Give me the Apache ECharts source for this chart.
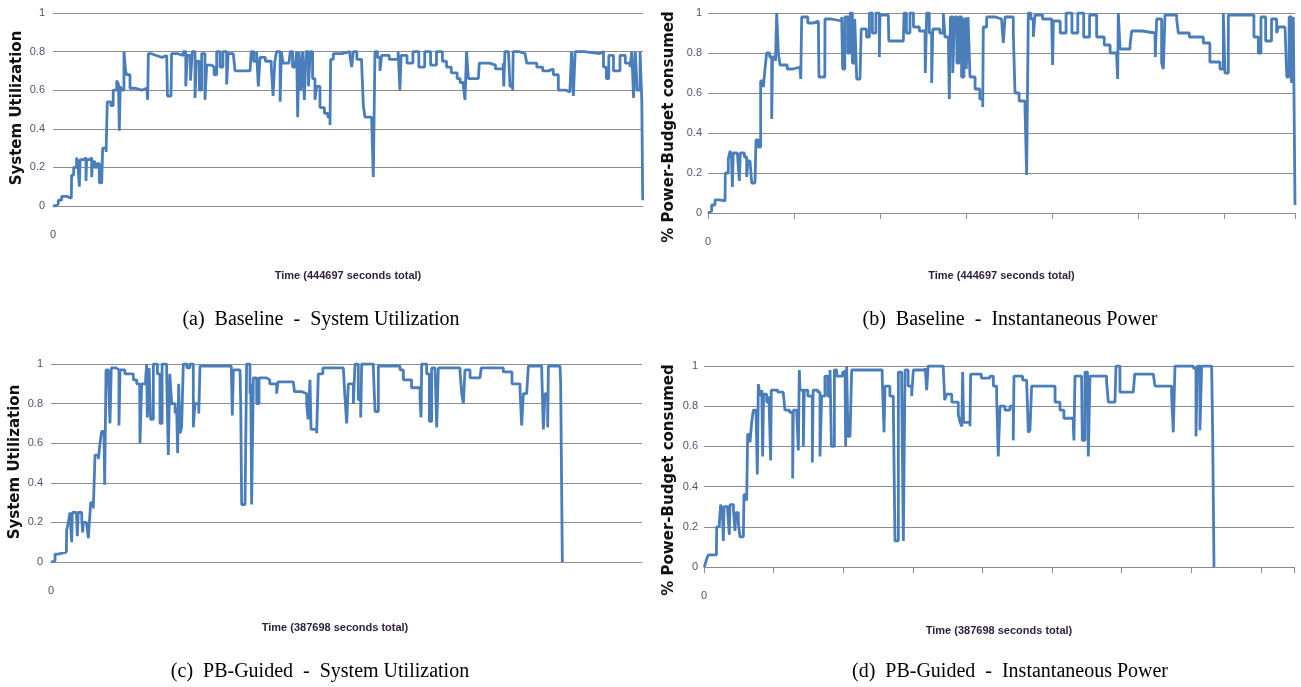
<!DOCTYPE html>
<html lang="en">
<head>
    <meta charset="UTF-8">
    <title>Baseline vs PB-Guided</title>
    <script src="https://cdn.jsdelivr.net/npm/echarts@6/dist/echarts.min.js"></script>
    <style>
        html, body { margin: 0; padding: 0; background: #ffffff; }
        #main { width: 1301px; height: 687px; }
    </style>
</head>
<body>
<div id="main"></div>

<script type="text/javascript">
    // time is read as % of the baseline run (444697 s), value as fraction
    var baseUtil = [[0,0],[0.34,0.01],[0.9,0.03],[1.47,0.05],[2.3,0.04],[3.1,0.05],[3.16,0.16],[3.5,0.2],[4.0,0.25],[4.2,0.23],[4.46,0.1],[4.6,0.24],[5.2,0.25],[5.59,0.13],[5.7,0.24],[6.2,0.25],[6.55,0.15],[6.7,0.23],[7.1,0.2],[7.5,0.22],[7.85,0.12],[8.25,0.13],[8.42,0.3],[9.0,0.28],[9.2,0.54],[9.8,0.52],[10.2,0.6],[10.8,0.65],[11.1,0.63],[11.24,0.39],[11.4,0.62],[11.64,0.6],[12.03,0.8],[12.3,0.7],[12.5,0.68],[13.05,0.61],[14.0,0.6],[15.0,0.61],[15.9,0.6],[16.05,0.55],[16.16,0.79],[16.6,0.78],[17.5,0.77],[18.5,0.78],[19.27,0.77],[19.4,0.57],[20.0,0.56],[20.1,0.79],[21.0,0.78],[22.1,0.8],[22.5,0.62],[22.8,0.78],[23.3,0.65],[23.6,0.8],[24.07,0.56],[24.3,0.75],[24.8,0.6],[25.2,0.79],[25.76,0.55],[26.05,0.73],[26.9,0.72],[27.3,0.68],[27.74,0.8],[28.3,0.72],[28.8,0.8],[29.43,0.63],[29.7,0.79],[30.56,0.8],[30.85,0.7],[32.0,0.7],[33.4,0.7],[33.6,0.8],[34.0,0.75],[34.5,0.8],[34.8,0.62],[35.1,0.77],[36.0,0.75],[37.0,0.72],[37.3,0.57],[37.6,0.75],[37.9,0.8],[38.5,0.54],[38.7,0.8],[39.0,0.74],[40.0,0.74],[40.2,0.8],[40.6,0.72],[41.0,0.72],[41.3,0.8],[41.47,0.46],[41.7,0.8],[42.0,0.6],[42.3,0.8],[42.6,0.55],[42.9,0.8],[43.3,0.62],[43.6,0.8],[44.0,0.66],[44.4,0.55],[44.7,0.62],[45.25,0.51],[46.0,0.48],[46.6,0.46],[46.95,0.42],[47.06,0.76],[47.51,0.79],[49.0,0.8],[50.33,0.78],[50.62,0.72],[50.9,0.8],[51.5,0.76],[52.31,0.74],[52.6,0.52],[52.88,0.46],[54.0,0.46],[54.29,0.15],[54.57,0.8],[55.0,0.77],[55.42,0.7],[55.7,0.78],[57.0,0.76],[58.5,0.8],[58.8,0.6],[59.0,0.78],[60.0,0.74],[61.0,0.8],[62.0,0.72],[63.0,0.8],[64.0,0.73],[65.0,0.8],[66.0,0.75],[66.7,0.72],[67.5,0.69],[68.5,0.66],[69.0,0.64],[69.55,0.62],[69.83,0.55],[70.1,0.8],[70.4,0.66],[72.1,0.67],[72.25,0.74],[74.0,0.73],[75.0,0.71],[76.3,0.74],[76.4,0.62],[76.6,0.8],[77.2,0.8],[77.45,0.62],[77.9,0.6],[78.0,0.8],[79.0,0.79],[80.0,0.78],[80.3,0.74],[82.0,0.72],[83.0,0.7],[84.0,0.71],[84.8,0.68],[85.65,0.6],[87.0,0.59],[87.6,0.58],[87.9,0.8],[88.2,0.57],[88.5,0.8],[90.0,0.79],[92.7,0.8],[93.3,0.72],[93.8,0.66],[94.2,0.78],[95.0,0.7],[96.1,0.78],[97.0,0.74],[97.8,0.72],[98.1,0.8],[98.4,0.56],[98.7,0.8],[99.0,0.6],[99.5,0.8],[99.8,0.54],[99.95,0.03]];

    var basePower = [[0,0],[0.06,0.01],[0.62,0.04],[1.19,0.066],[2.0,0.06],[2.9,0.066],[2.95,0.2],[3.46,0.27],[3.75,0.31],[4.0,0.29],[4.15,0.13],[4.3,0.3],[5.0,0.29],[5.34,0.16],[5.5,0.3],[6.2,0.28],[6.59,0.18],[6.8,0.26],[7.16,0.25],[7.44,0.15],[8.0,0.15],[8.18,0.365],[8.57,0.33],[8.97,0.66],[9.43,0.63],[9.71,0.72],[9.99,0.8],[10.5,0.78],[10.85,0.47],[11.0,0.78],[11.5,0.76],[11.7,1.0],[11.98,0.8],[12.27,0.74],[13.5,0.72],[14.5,0.73],[15.67,0.72],[15.8,0.67],[15.96,0.98],[17.0,0.95],[18.0,0.96],[18.8,0.95],[18.9,0.68],[19.9,0.68],[19.93,0.97],[21.0,0.96],[22.77,0.98],[22.94,0.72],[23.3,0.98],[23.8,0.8],[24.2,1.0],[24.6,0.75],[25.0,0.97],[25.33,0.67],[25.9,0.67],[26.1,0.92],[27.0,0.88],[27.5,1.0],[28.0,0.9],[28.6,1.0],[29.19,0.78],[29.3,0.99],[30.72,0.99],[30.8,0.86],[33.28,0.86],[33.4,1.0],[33.8,0.9],[34.41,1.0],[35.0,0.93],[36.0,0.91],[36.97,0.88],[37.02,0.7],[37.25,1.0],[37.7,0.9],[38.1,0.65],[38.3,0.92],[39.5,0.9],[40.09,1.0],[40.37,0.88],[40.94,0.88],[41.11,0.57],[41.3,0.98],[41.7,0.7],[42.0,0.98],[42.4,0.75],[42.8,0.98],[43.2,0.68],[43.6,0.97],[44.0,0.72],[44.3,0.98],[44.63,0.68],[45.5,0.62],[46.3,0.57],[46.8,0.53],[46.9,0.93],[47.47,0.98],[49.0,0.97],[50.0,0.98],[50.31,0.85],[50.6,0.98],[52.01,0.9],[52.3,0.6],[53.0,0.56],[54.0,0.53],[54.28,0.19],[54.57,1.0],[55.0,0.97],[55.42,0.88],[55.7,0.99],[57.0,0.97],[58.54,0.98],[58.71,0.74],[58.83,0.96],[60.0,0.9],[61.0,1.0],[62.0,0.9],[63.0,1.0],[64.0,0.88],[65.0,0.99],[66.21,0.88],[67.5,0.84],[68.5,0.8],[69.62,0.78],[69.79,0.67],[69.9,1.0],[70.2,0.82],[71.9,0.84],[72.17,0.91],[74.0,0.9],[76.15,0.9],[76.2,0.78],[76.43,0.97],[77.28,0.75],[77.57,0.72],[77.85,0.99],[79.84,0.97],[80.12,0.9],[82.0,0.88],[84.38,0.85],[85.5,0.755],[87.22,0.72],[87.79,1.0],[88.07,0.7],[88.36,0.7],[88.64,0.99],[92.33,0.99],[93.0,0.88],[93.75,0.8],[94.2,0.98],[95.0,0.86],[96.0,0.97],[96.87,0.9],[97.16,0.93],[98.3,0.93],[98.6,0.68],[99.0,0.98],[99.4,0.65],[99.71,0.98],[100,0.04]];

    var guidedUtil = [[0,0],[0.11,0.005],[0.68,0.04],[1.2,0.05],[2.6,0.05],[2.65,0.16],[2.93,0.2],[3.21,0.25],[3.4,0.24],[3.5,0.1],[3.6,0.25],[4.3,0.24],[4.46,0.13],[4.6,0.25],[5.2,0.22],[5.36,0.15],[5.47,0.2],[6.0,0.2],[6.32,0.12],[6.6,0.12],[6.71,0.3],[7.16,0.27],[7.45,0.54],[8.01,0.52],[8.29,0.6],[8.57,0.66],[8.97,0.66],[9.08,0.39],[9.31,0.97],[9.7,0.95],[9.98,0.7],[10.2,0.98],[11.0,0.97],[11.5,0.69],[11.68,0.97],[12.5,0.95],[13.93,0.92],[14.5,0.9],[15.0,0.9],[15.06,0.6],[15.34,0.9],[16.0,0.92],[16.19,1.0],[16.3,0.73],[16.6,0.98],[16.86,0.72],[17.32,1.0],[18.0,0.95],[18.44,0.7],[18.8,1.0],[19.57,0.95],[19.85,0.54],[20.1,0.95],[20.42,0.8],[21.0,0.75],[21.26,0.78],[21.43,0.55],[21.6,0.9],[21.83,0.65],[22.1,0.68],[22.39,1.0],[23.0,0.98],[23.5,1.0],[24.08,0.68],[24.37,0.8],[25.0,0.75],[25.21,0.99],[28.0,0.99],[30.5,0.98],[30.68,0.74],[30.86,0.97],[31.98,0.97],[32.1,0.8],[32.26,0.29],[32.83,0.29],[33.1,1.0],[33.67,0.85],[33.8,0.9],[33.95,0.29],[34.24,0.93],[34.8,0.8],[35.2,0.93],[36.5,0.92],[37.0,0.9],[38.18,0.85],[38.4,0.91],[41.0,0.9],[41.2,0.86],[42.5,0.85],[43.26,0.8],[43.5,0.72],[43.82,0.92],[44.0,0.67],[44.95,0.65],[45.23,0.95],[46.0,0.98],[47.2,0.98],[49.47,0.97],[49.7,0.85],[50.03,0.7],[50.31,0.9],[51.16,0.8],[51.44,1.0],[52.0,0.82],[52.4,0.73],[52.57,1.0],[54.54,0.98],[54.83,0.76],[55.39,0.99],[59.06,0.97],[59.62,0.92],[61.0,0.88],[62.44,0.83],[62.61,0.73],[62.72,1.0],[63.57,0.95],[64.02,0.71],[64.41,0.98],[64.98,0.98],[65.26,0.68],[65.54,0.98],[69.21,0.96],[69.5,0.85],[69.77,0.8],[70.05,0.97],[70.9,0.93],[72.59,0.93],[72.8,0.98],[76.54,0.96],[78.0,0.9],[79.36,0.87],[79.64,0.69],[79.93,0.85],[80.49,0.85],[80.77,0.99],[83.03,0.97],[83.31,0.67],[83.59,0.85],[84.04,0.68],[84.16,0.99],[86.13,0.99],[86.24,0.9],[86.41,0.35],[86.52,0]];

    var guidedPower = [[0,0],[0.17,0.01],[0.45,0.04],[0.73,0.06],[2.1,0.06],[2.15,0.2],[2.6,0.22],[2.82,0.31],[3.1,0.29],[3.28,0.13],[3.4,0.3],[4.0,0.28],[4.29,0.16],[4.4,0.31],[5.0,0.28],[5.25,0.18],[5.4,0.27],[5.82,0.22],[6.1,0.15],[6.67,0.15],[6.78,0.36],[7.23,0.33],[7.4,0.66],[7.8,0.62],[8.08,0.72],[8.36,0.78],[8.81,0.78],[9.04,0.46],[9.21,0.91],[9.49,0.85],[9.8,0.88],[9.94,0.55],[10.1,0.86],[10.62,0.82],[11.0,0.85],[11.3,0.53],[11.4,0.88],[12.5,0.87],[13.45,0.86],[13.73,0.78],[14.5,0.77],[15.03,0.44],[15.14,0.78],[15.7,0.78],[15.99,0.58],[16.16,0.98],[16.27,0.88],[16.84,0.6],[17.0,0.88],[17.6,0.85],[18.36,0.52],[18.5,0.88],[19.3,0.87],[19.66,0.55],[19.94,0.85],[20.5,0.95],[21.0,0.85],[21.36,0.98],[21.6,0.6],[21.92,0.6],[22.1,0.98],[22.49,0.95],[23.5,0.97],[23.9,0.98],[24.01,0.6],[24.18,1.0],[24.4,0.65],[24.75,0.65],[25.03,0.98],[27.0,0.98],[29.83,0.98],[30.2,0.95],[30.51,0.67],[30.68,0.9],[31.5,0.85],[32.09,0.8],[32.37,0.13],[32.66,0.13],[32.94,0.97],[33.5,0.9],[33.79,0.13],[34.07,0.98],[34.6,0.9],[35.2,0.85],[35.48,0.98],[37.5,0.99],[37.74,0.88],[38.0,1.0],[40.56,0.99],[40.8,0.83],[41.13,0.86],[42.0,0.82],[43.1,0.76],[43.39,0.72],[43.7,0.7],[43.84,0.97],[44.0,0.72],[45.08,0.7],[45.2,0.96],[47.0,0.94],[48.47,0.95],[49.04,0.9],[49.6,0.85],[49.88,0.55],[50.17,0.8],[51.0,0.78],[51.86,0.8],[52.42,0.63],[52.54,0.95],[54.0,0.93],[54.68,0.93],[54.97,0.67],[55.25,0.68],[55.53,0.9],[58.64,0.9],[59.5,0.82],[60.33,0.78],[61.0,0.74],[62.59,0.7],[62.7,0.63],[62.88,0.95],[64.0,0.94],[64.12,0.63],[64.57,0.97],[65.0,0.93],[65.14,0.55],[65.42,0.95],[68.24,0.92],[68.53,0.82],[69.66,0.82],[69.83,1.0],[70.5,0.87],[72.76,0.87],[73.0,0.96],[76.15,0.96],[76.44,0.9],[79.26,0.85],[79.54,0.67],[79.83,1.0],[80.96,1.0],[82.93,0.99],[83.39,0.65],[83.61,1.0],[84.06,0.68],[84.35,1.0],[86.04,1.0],[86.21,0.67],[86.44,0]];

    var xNames = ['Time (444697 seconds total)', 'Time (444697 seconds total)',
                  'Time (387698 seconds total)', 'Time (387698 seconds total)'];
    var yNames = ['System Utilization', '% Power-Budget consumed',
                  'System Utilization', '% Power-Budget consumed'];
    var captions = ['(a)  Baseline  -  System Utilization', '(b)  Baseline  -  Instantaneous Power',
                    '(c)  PB-Guided  -  System Utilization', '(d)  PB-Guided  -  Instantaneous Power'];
    var allSeries = [baseUtil, basePower, guidedUtil, guidedPower];

    var grids = [
        {left: 53, top: 13, width: 590, height: 193},
        {left: 708, top: 13, width: 587, height: 200},
        {left: 51, top: 364, width: 591, height: 198},
        {left: 704, top: 366, width: 590, height: 201}
    ];
    // tick spacing (in % of run) of the small x ticks, 0 = none
    var tickStep = [0, 14.65, 0, 11.8];
    var yNamePos = [[17, 108], [669, 127], [15, 462], [669, 480]];
    var captionPos = [[321, 320], [1010, 320], [320, 672], [1010, 672]];
    var xNameGap = [64, 57, 60, 58];
    var xNamePad = [[0, 0, 0, 0], [0, 0, 0, 0], [0, 23, 0, 0], [0, 0, 0, 0]];

    var myChart = echarts.init(document.getElementById('main'));

    var xAxes = [], yAxes = [], series = [], graphics = [];
    for (var i = 0; i < 4; i++) {
        xAxes.push({
            type: 'value',
            gridIndex: i,
            min: 0,
            max: 100,
            interval: tickStep[i] || 20,
            name: xNames[i],
            nameLocation: 'middle',
            nameGap: xNameGap[i],
            nameTextStyle: {
                color: '#2e1f3d',
                fontSize: 11,
                fontWeight: 'bold',
                fontFamily: '"Liberation Sans", sans-serif',
                padding: xNamePad[i]
            },
            axisLine: {show: true, lineStyle: {color: '#8c8c8c'}},
            axisTick: {show: tickStep[i] > 0, length: 6, lineStyle: {color: '#8c8c8c'}},
            splitLine: {show: false},
            axisLabel: {
                margin: 23,
                color: '#5d4d75',
                fontSize: 11,
                fontFamily: '"Liberation Sans", sans-serif',
                formatter: function (v) {
                    return v === 0 ? '0' : '';
                }
            }
        });
        yAxes.push({
            type: 'value',
            gridIndex: i,
            min: 0,
            max: 1,
            interval: 0.2,
            axisLine: {show: false},
            axisTick: {show: false},
            splitLine: {lineStyle: {color: '#8c8c8c', width: 1}},
            axisLabel: {
                margin: i % 2 ? 6 : 8,
                color: '#5d4d75',
                fontSize: 11,
                fontFamily: '"Liberation Sans", sans-serif'
            }
        });
        series.push({
            type: 'line',
            xAxisIndex: i,
            yAxisIndex: i,
            data: allSeries[i],
            step: 'end',
            showSymbol: false,
            lineStyle: {color: '#4a7ebb', width: 2.8},
            animation: false
        });
        graphics.push({
            type: 'text',
            x: yNamePos[i][0],
            y: yNamePos[i][1],
            rotation: Math.PI / 2,
            style: {
                text: yNames[i],
                fill: '#111111',
                fontSize: 15,
                fontWeight: 'bold',
                fontFamily: '"DejaVu Sans", sans-serif',
                align: 'center',
                verticalAlign: 'middle'
            }
        });
        graphics.push({
            type: 'text',
            x: captionPos[i][0],
            y: captionPos[i][1],
            style: {
                text: captions[i],
                fill: '#000000',
                fontSize: 20,
                fontFamily: '"Liberation Serif", serif',
                align: 'center',
                verticalAlign: 'middle'
            }
        });
    }

    var option = {
        backgroundColor: '#ffffff',
        animation: false,
        grid: grids,
        xAxis: xAxes,
        yAxis: yAxes,
        series: series,
        graphic: graphics
    };

    myChart.setOption(option);
</script>
</body>
</html>
